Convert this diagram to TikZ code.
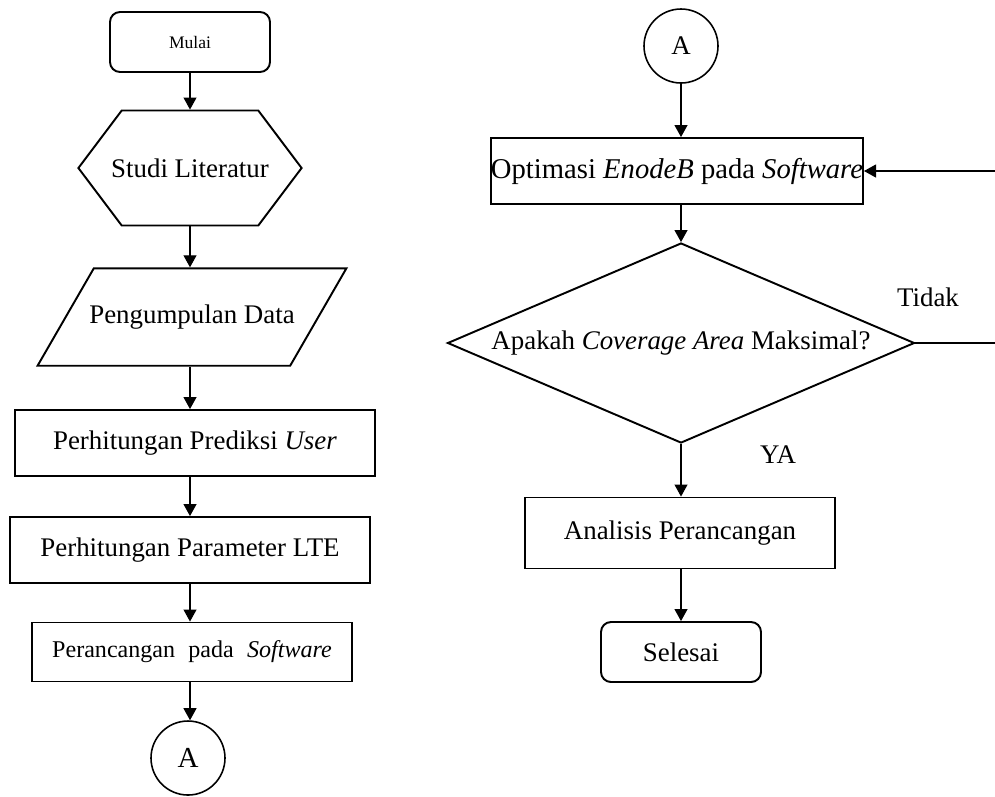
\documentclass[tikz,border=0pt]{standalone}
\usepackage{fontspec}
\setmainfont{Liberation Serif}
\usetikzlibrary{arrows.meta,shapes,calc}
\tikzset{
    block/.style = {draw, rectangle, line width=1.1pt,
        minimum height=1.32cm, inner sep=0pt, align=center},
    term/.style = {draw, rectangle, rounded corners=0.2cm, line width=1.1pt,
        minimum width=3.2cm, minimum height=1.2cm},
    hexa/.style = {draw, signal, signal to=west and east, signal pointer angle=106,
        inner xsep=-0.21cm, line width=1.1pt, minimum height=2.3cm},
    io/.style = {draw, trapezium, trapezium left angle=60, trapezium right angle=120,
        trapezium stretches body=true, inner xsep=-0.09cm, inner ysep=0.73cm, line width=1.1pt},
    decision/.style = {draw, diamond, aspect=2.33, inner sep=0pt, line width=1.1pt,
        minimum width=9.34cm, minimum height=4cm},
    conn/.style = {draw, circle, line width=0.9pt, minimum size=1.48cm},
    arrow/.style = {draw, line width=0.6pt, -{Triangle[length=2.4mm,width=2.6mm]}},
    flow/.style = {draw, line width=0.6pt}
}

\begin{document}
\begin{tikzpicture}[font=\fontsize{15.3}{18}\selectfont]
  \useasboundingbox (0,0) rectangle (19.9,-15.92);
  % kolom kiri
  \node[term, font=\fontsize{10}{12}\selectfont] (mulai) at (3.8,-0.84) {Mulai};
  \node[hexa] (studi) at (3.8,-3.36) {Studi Literatur};
  \node[io] (data) at (3.84,-6.34) {Pengumpulan Data};
  \node[block, minimum width=7.2cm] (user) at (3.9,-8.86) {Perhitungan Prediksi \textit{User}};
  \node[block, minimum width=7.2cm] (lte) at (3.8,-11) {Perhitungan Parameter LTE};
  \node[block, minimum width=6.4cm, minimum height=1.18cm, font=\fontsize{13.7}{16}\selectfont]
    (soft) at (3.84,-13.04) {Perancangan\hspace{0.55em}pada\hspace{0.55em}\textit{Software}};
  \node[conn, font=\fontsize{16.5}{18}\selectfont] (a1) at (3.76,-15.16) {A};
  \draw[arrow] (mulai.south) -- (mulai.south |- studi.north);
  \draw[arrow] (studi.south) -- (studi.south |- data.north);
  \draw[arrow] (data.south -| studi.south) -- (studi.south |- user.north);
  \draw[arrow] (studi.south |- user.south) -- (studi.south |- lte.north);
  \draw[arrow] (lte.south) -- (lte.south |- soft.north);
  \draw[arrow] (lte.south |- soft.south) -- (lte.south |- a1.north);
  % kolom kanan
  \node[conn] (a2) at (13.62,-0.92) {A};
  \node[block, minimum width=7.44cm, font=\fontsize{16.3}{18}\selectfont] (opt) at (13.54,-3.42)
    {Optimasi \textit{EnodeB} pada \textit{Software}};
  \node[decision] (cek) at (13.62,-6.86) {Apakah \textit{Coverage Area} Maksimal?};
  \node[block, minimum width=6.2cm, minimum height=1.42cm] (anl) at (13.6,-10.66)
    {Analisis Perancangan};
  \node[term] (selesai) at (13.62,-13.04) {Selesai};
  \node (tidak) at (18.56,-5.94) {Tidak};
  \node (ya) at (15.56,-9.1) {YA};
  \coordinate (balik) at (20.0,-6.86);
  \draw[arrow] (a2.south) -- (a2.south |- opt.north);
  \draw[arrow] (a2.south |- opt.south) -- (cek.north);
  \draw[arrow] (cek.south) -- (cek.south |- anl.north);
  \draw[arrow] (cek.south |- anl.south) -- (selesai.north);
  \draw[arrow] (cek.east) -- (balik) |- (opt.east);
\end{tikzpicture}
\end{document}
